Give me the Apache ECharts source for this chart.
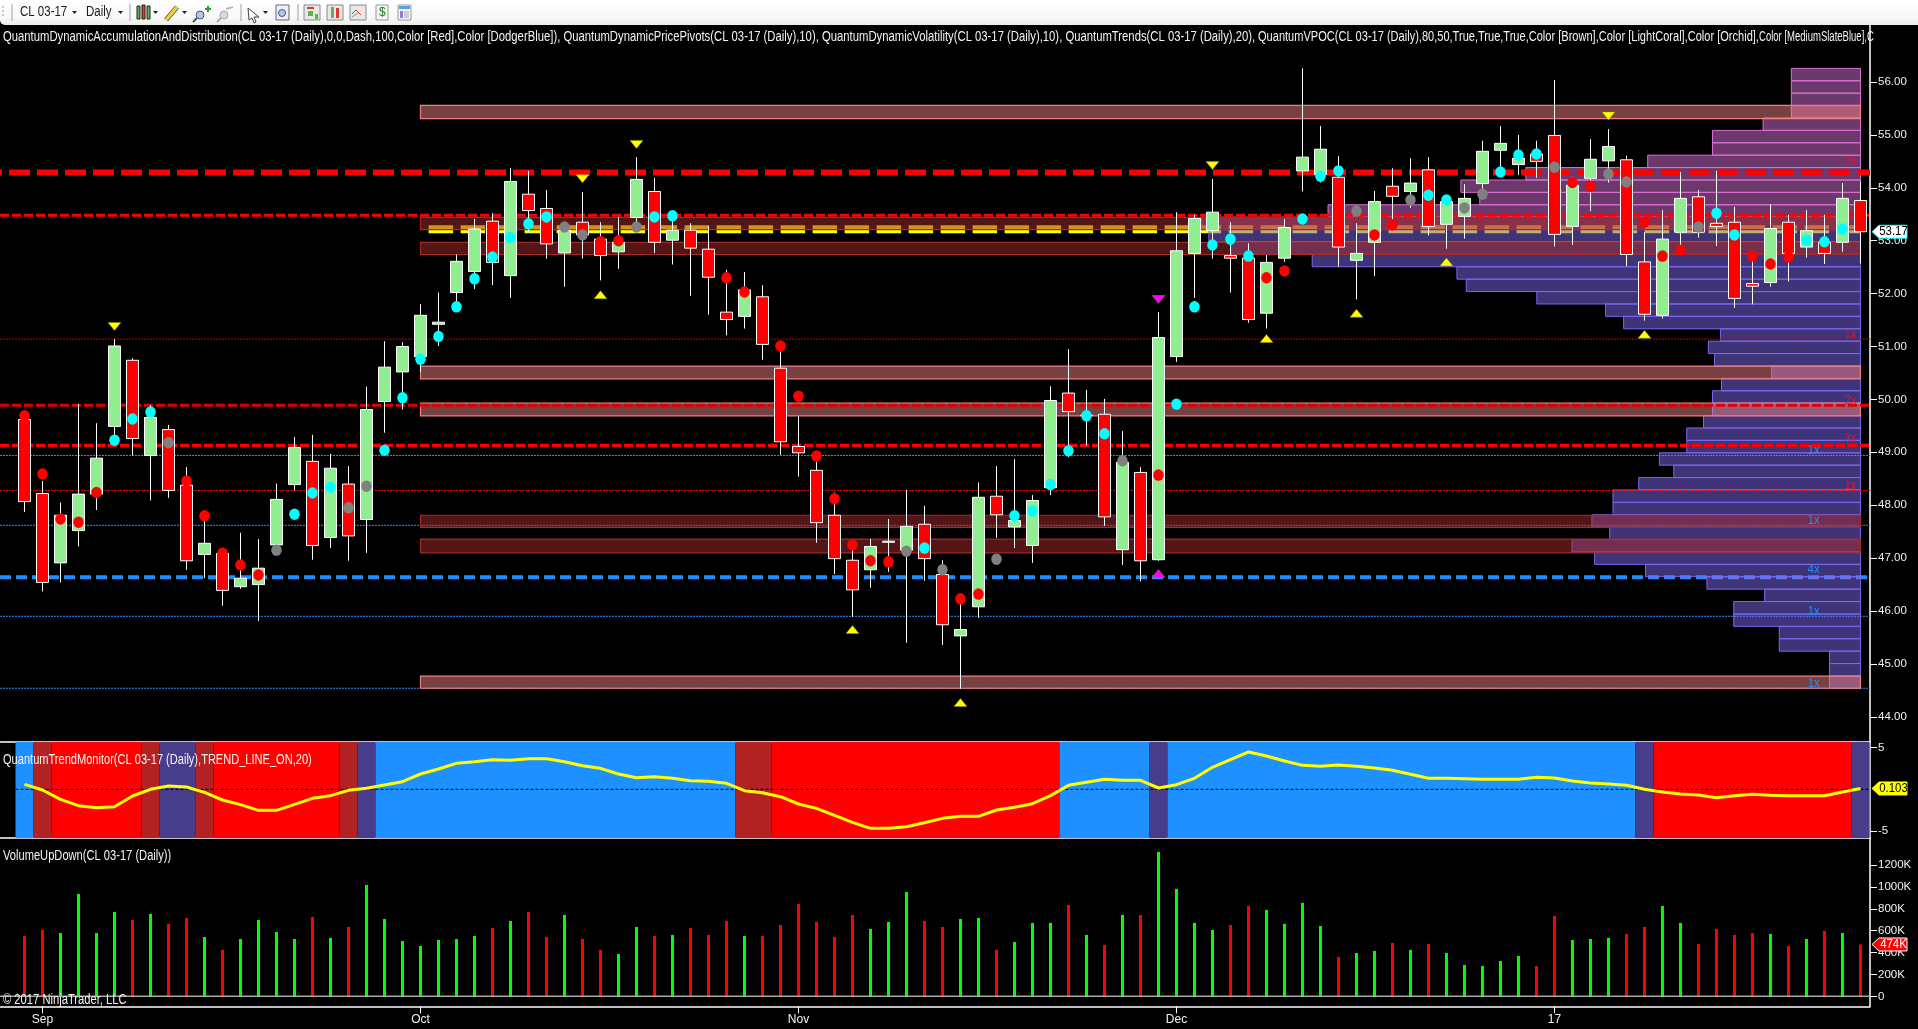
<!DOCTYPE html>
<html><head><meta charset="utf-8">
<style>html,body{margin:0;padding:0;background:#000;overflow:hidden}#c{width:1918px;height:1029px}</style>
<script src="https://cdn.jsdelivr.net/npm/echarts@6/dist/echarts.min.js"></script>
</head><body><div id="c"></div>
<script>
const opens=[49.62,48.22,46.91,47.52,48.21,49.49,50.74,48.94,49.43,48.38,47.07,47.09,46.46,46.50,47.25,48.39,48.83,47.39,48.40,47.73,49.96,50.52,50.81,51.42,52.02,52.42,53.37,52.34,53.88,53.61,52.77,53.35,53.03,52.79,53.44,53.93,53.01,53.20,52.84,51.65,51.57,51.94,50.59,49.11,48.66,47.81,46.96,46.78,47.30,47.15,47.64,46.69,45.53,46.08,48.17,47.59,47.24,48.33,50.12,49.69,49.72,47.16,48.62,46.97,50.81,52.76,53.19,52.72,52.67,51.63,52.67,54.32,54.25,54.20,52.63,52.97,54.03,53.93,54.34,53.31,53.46,54.08,54.71,54.44,54.64,54.99,53.27,54.18,54.51,54.53,52.60,51.59,53.16,53.83,53.33,53.35,52.19,52.21,53.35,52.88,52.97,52.97,53.76];
const closes=[48.07,46.54,47.81,48.21,48.89,51.01,49.26,49.66,48.28,46.95,47.28,46.39,46.62,46.81,48.11,49.09,47.24,48.70,47.42,49.81,50.61,51.00,51.59,51.46,52.61,53.22,52.59,54.12,53.57,52.94,53.20,53.11,52.72,52.97,54.16,52.97,53.20,52.86,52.31,51.51,52.07,51.04,49.20,48.99,47.67,46.99,46.40,47.22,47.32,47.60,46.99,45.74,45.65,48.15,47.82,47.71,48.09,49.98,49.77,49.70,47.78,48.81,46.95,51.17,52.81,53.42,53.54,52.67,51.51,52.59,53.25,54.58,54.73,52.88,52.76,53.74,53.84,54.09,53.27,53.74,53.80,54.69,54.84,54.56,54.50,53.12,54.05,54.54,54.78,52.74,51.61,53.03,53.80,53.16,53.27,51.91,52.14,53.23,52.76,53.19,52.76,53.80,53.17];
const highs=[49.77,48.46,48.05,49.91,49.55,51.14,50.78,49.89,49.52,48.72,47.80,47.15,47.48,47.36,48.41,49.29,49.33,48.97,48.74,50.24,51.10,51.08,51.80,52.02,52.74,53.41,53.52,54.37,54.32,53.96,53.27,53.92,53.35,53.45,54.58,54.19,53.52,53.33,53.28,52.45,52.41,52.16,51.00,49.69,48.82,48.24,47.15,47.36,47.74,48.29,47.99,46.96,46.15,48.43,48.74,48.87,48.19,50.25,50.95,50.18,50.01,49.40,48.72,51.65,53.54,53.49,54.17,53.35,52.95,52.73,53.41,56.26,55.17,54.60,53.33,53.94,54.37,54.56,54.58,53.83,54.07,54.89,55.17,55.00,54.89,56.04,54.21,54.92,55.11,54.61,53.16,53.58,54.30,53.96,54.32,53.64,52.73,53.69,53.49,53.58,53.49,54.09,54.12];
const lows=[47.87,46.37,46.54,47.22,47.91,49.20,48.94,48.09,48.14,46.78,46.62,46.10,46.42,45.81,47.20,48.28,46.97,47.19,46.95,47.10,49.37,49.81,50.52,51.01,51.85,52.09,52.16,51.92,53.15,52.66,52.13,52.66,52.25,52.47,53.27,52.77,52.55,51.96,51.60,51.21,51.34,50.75,48.95,48.54,47.29,46.70,45.89,46.44,46.74,45.40,46.57,45.36,44.53,45.87,47.38,47.19,46.91,48.19,48.91,49.13,47.61,46.87,46.56,46.95,50.71,51.92,52.66,52.02,51.45,51.34,52.60,53.93,54.10,52.51,51.89,52.33,53.32,53.62,53.10,52.85,53.04,53.93,54.24,54.24,54.19,52.89,52.92,53.56,54.10,52.52,51.49,51.53,52.82,53.06,52.90,51.73,51.80,52.13,52.23,52.68,52.56,52.79,52.57];
const volumes=[552,607,579,936,579,771,698,753,662,716,543,424,524,698,588,524,726,534,634,1018,707,506,460,515,524,552,625,689,771,543,744,524,424,387,634,552,561,625,561,689,552,552,652,845,680,543,744,616,680,954,689,634,707,716,424,497,671,671,835,561,470,744,744,1320,982,671,607,652,826,790,662,854,643,360,396,415,488,424,479,396,287,277,323,369,277,735,515,524,534,570,634,826,671,479,616,561,579,570,460,524,598,579,474];
const trendLine=[.6,-.08,-1.2,-1.96,-2.2,-2.08,-.8,0,.4,.28,-.36,-1.28,-1.84,-2.52,-2.52,-1.8,-1.08,-.76,-.12,.12,.52,.92,1.84,2.44,3.12,3.32,3.56,3.48,3.68,3.68,3.32,2.84,2.52,1.84,1.4,1.52,1.32,1.04,.96,.72,-.16,-.4,-.88,-1.76,-2.28,-3.12,-3.96,-4.68,-4.68,-4.48,-4,-3.48,-3.24,-3.24,-2.48,-2.16,-1.72,-.76,.48,.84,1.2,1.08,1.08,.16,.56,1.32,2.64,3.56,4.48,4,3.4,2.88,2.76,2.92,2.76,2.56,2.28,1.8,1.32,1.32,1.28,1.2,1.2,1.2,1.44,1.36,1,.76,.64,.48,0,-.32,-.56,-.68,-1,-.76,-.6,-.72,-.76,-.76,-.76,-.32,.103];
const trendSegments=[[0,0,'up'],[1,1,'warnDown'],[2,6,'down'],[7,7,'warnDown'],[8,9,'warnUp'],[10,10,'warnDown'],[11,17,'down'],[18,18,'warnDown'],[19,19,'warnUp'],[20,39,'up'],[40,41,'warnDown'],[42,57,'down'],[58,62,'up'],[63,63,'warnUp'],[64,89,'up'],[90,90,'warnUp'],[91,101,'down'],[102,102,'warnUp']];
const redDots=[[0,49.69],[1,48.59],[2,47.74],[3,47.68],[4,48.24],[9,48.46],[10,47.80],[11,47.09],[12,46.87],[13,46.68],[32,52.98],[33,53.00],[39,52.30],[40,52.03],[42,51.01],[43,50.06],[44,48.93],[45,48.12],[46,47.25],[47,46.95],[48,46.93],[52,46.23],[53,46.32],[63,48.57],[69,52.30],[70,52.43],[75,53.11],[76,53.30],[86,54.10],[87,54.03],[90,53.35],[91,52.71],[92,52.82],[96,52.71],[97,52.56],[98,52.69]];
const cyanDots=[[5,49.23],[6,49.63],[7,49.76],[15,47.83],[16,48.23],[17,48.34],[20,49.04],[21,50.03],[22,50.76],[23,51.19],[24,51.75],[25,52.28],[26,52.69],[27,53.06],[28,53.32],[29,53.45],[35,53.45],[36,53.47],[50,47.19],[55,47.80],[56,47.89],[57,48.39],[58,49.03],[59,49.69],[60,49.35],[64,49.91],[65,51.75],[66,52.92],[67,53.03],[68,52.71],[71,53.41],[72,54.22],[73,54.32],[78,53.86],[79,53.77],[82,54.30],[83,54.62],[84,54.64],[94,53.52],[95,53.11],[99,53.01],[100,52.98],[101,53.22]];
const grayDots=[[8,49.18],[14,47.15],[18,47.95],[19,48.36],[30,53.26],[31,53.11],[34,53.26],[49,47.13],[51,46.78],[54,46.98],[61,48.84],[74,53.56],[77,53.77],[80,53.62],[81,53.88],[85,54.39],[88,54.26],[89,54.11],[93,53.26]];
const pivotsDown=[[5,51.38],[31,54.17],[34,54.82],[66,54.42],[88,55.36]];
const pivotsUp=[[32,51.98],[46,45.65],[52,44.27],[69,51.15],[74,51.63],[79,52.60],[90,51.23]];
const climaxDown=[[63,51.89]];
const climaxUp=[[63,46.71]];
const profileVolumes=[1.72,1.72,1.72,4.51,4.51,7.04,7.04,5.32,8.53,11.94,14.77,16.03,13.93,14.92,13.75,13.75,12.32,10.37,11.17,9.65,9.65,8.72,8.22,8.22,7.72,4.93,8.11,8.45,7.77,13.16,14.16,17.98,21.9,22.42,30.46,34.98,36.2,36.6,29.58,21.15,22.2,18.59,11.82,8.22,8.22,5.41,3.84,3.84,3.84,3.84];
const profileFloor=44.538, profileStep=0.2344, profilePocRow=37;
const lightZones=[[55.31,55.56],[50.39,50.63],[49.69,49.93],[44.54,44.77]];
const darkZones=[[53.21,53.44],[52.74,52.97],[47.58,47.81],[47.10,47.36]];
const redLevels=[54.29,53.48,49.89,49.13,48.28,51.14];
const blueLevels=[46.64,48.94,47.62,45.90,44.54];
const yellowLevel=53.215;
const redCounts=[[54.5,'7x'],[53.6,'2x'],[51.23,'1x'],[49.98,'2x'],[49.27,'3x'],[48.38,'1x']];
const blueCounts=[[49.04,'1x'],[47.71,'1x'],[46.79,'4x'],[45.99,'1x'],[44.63,'1x']];
const priceTicks=[44,45,46,47,48,49,50,51,52,53,54,55,56];
const trendTicks=[-5,5];
const volumeTicks=[0,200,400,600,800,1000,1200];
const monthTicks=[1,22,43,64,85];
const monthLabels=['Sep','Oct','Nov','Dec','17'];
const legendMain='QuantumDynamicAccumulationAndDistribution(CL 03-17 (Daily),0,0,Dash,100,Color [Red],Color [DodgerBlue]), QuantumDynamicPricePivots(CL 03-17 (Daily),10), QuantumDynamicVolatility(CL 03-17 (Daily),10), QuantumTrends(CL 03-17 (Daily),20),';
const legendMainVpoc='QuantumVPOC(CL 03-17 (Daily),80,50,True,True,True,Color [Brown],Color [LightCoral],Color [Orchid],';
const legendMainEnd='Color [MediumSlateBlue],C';
const legendTrend='QuantumTrendMonitor(CL 03-17 (Daily),TREND_LINE_ON,20)';
const legendVolume='VolumeUpDown(CL 03-17 (Daily))';
const copyrightText='© 2017 NinjaTrader, LLC';
const instrument='CL 03-17', period='Daily';

const FONT='"Liberation Sans",Arial,sans-serif';
const X0=-1.361,X1=102.53,LAST=102;
const xAxisBase={type:'value',min:X0,max:X1,splitLine:{show:false},axisPointer:{show:false},
  axisLine:{show:true,onZero:false,lineStyle:{color:'#fff',width:1.5}},axisTick:{show:false},axisLabel:{show:false}};
const yBase={type:'value',position:'right',scale:false,splitLine:{show:false},
  axisLine:{show:true,onZero:false,lineStyle:{color:'#fff',width:1.5}},
  axisTick:{show:true,length:7,lineStyle:{color:'#fff',width:1}}};
const lab=(f,vals)=>({show:true,color:'#f2f2f2',fontFamily:FONT,fontSize:11.5,margin:8,customValues:vals,formatter:f});
const levelLine=(p,color,width,dash,x0,x1,z,off)=>({type:'line',xAxisIndex:0,yAxisIndex:0,silent:true,animation:false,symbol:'none',z:z||1,
  data:[[x0===undefined?X0:x0,p],[x1===undefined?X1:x1,p]],lineStyle:{color,width,type:dash,dashOffset:off||0,cap:'butt'}});
const bandColor={up:'#1E90FF',down:'#FF0000',warnDown:'#B22222',warnUp:'#483D8B'};
const idx=opens.map((_,i)=>i);

const rectRender=(styleOf)=>(params,api)=>{
  const a=api.coord([api.value(0),api.value(2)]),b=api.coord([api.value(1),api.value(3)]);
  const s=params.coordSys;
  const shape=echarts.graphic.clipRectByRect({x:Math.min(a[0],b[0]),y:Math.min(a[1],b[1]),width:Math.abs(b[0]-a[0]),height:Math.abs(b[1]-a[1])},
    {x:s.x,y:s.y,width:s.width,height:s.height});
  return shape&&{type:'rect',shape,style:styleOf(params.dataIndex)};
};
const customRects=(data,styleOf,z,x,y)=>({type:'custom',xAxisIndex:x||0,yAxisIndex:y||0,silent:true,animation:false,z,
  data,encode:{x:[0,1],y:[2,3]},renderItem:rectRender(styleOf)});
const dotSeries=(data,color)=>({type:'scatter',xAxisIndex:0,yAxisIndex:0,silent:true,animation:false,z:6,data,symbol:'circle',symbolSize:[10.5,11.5],itemStyle:{color,opacity:1}});
const triSeries=(data,color,down)=>({type:'scatter',xAxisIndex:0,yAxisIndex:0,silent:true,animation:false,z:6,data,symbol:'triangle',symbolRotate:down?180:0,symbolSize:[13,8],itemStyle:{color,opacity:1,borderColor:'#8a8a00',borderWidth:.5}});
const countLabels=(data,color,xi)=>({type:'custom',xAxisIndex:0,yAxisIndex:0,silent:true,animation:false,z:4,
  data:data.map(d=>[xi,d[0],d[1]]),encode:{x:0,y:1},
  renderItem:(p,api)=>{const c=api.coord([api.value(0),api.value(1)]);
    return {type:'text',x:c[0],y:c[1],scaleX:.85,style:{text:data[p.dataIndex][1],fill:color,font:'13px '+FONT,align:'center',verticalAlign:'middle'}};}});
const tagSeries=(x,y,val,text,fill,textFill,stroke)=>({type:'custom',xAxisIndex:x,yAxisIndex:y,silent:true,animation:false,z:30,clip:false,
  data:[[X1,val]],encode:{x:0,y:1},
  renderItem:(p,api)=>{const c=api.coord([api.value(0),api.value(1)]);const X=c[0],Y=c[1];
    return {type:'group',children:[
      {type:'polygon',shape:{points:[[X+2,Y],[X+9,Y-6.5],[X+37,Y-6.5],[X+37,Y+6.5],[X+9,Y+6.5]]},style:{fill,stroke,lineWidth:1}},
      {type:'text',x:X+23.5,y:Y,scaleX:.88,style:{text,fill:textFill,font:'13px '+FONT,align:'center',verticalAlign:'middle'}}]};}});

const series=[
  // trend panel
  customRects(trendSegments.map(s=>[s[0]-.5,s[1]+.5,-100,100]),i=>({fill:bandColor[trendSegments[i][2]]}),1,1,1),
  {type:'line',xAxisIndex:1,yAxisIndex:1,silent:true,animation:false,symbol:'none',z:3,data:[[-.5,0],[X1,0]],lineStyle:{color:'#000',width:1,type:[3,2]}},
  {type:'line',xAxisIndex:1,yAxisIndex:1,silent:true,animation:false,symbol:'none',z:4,data:idx.map(i=>[i,trendLine[i]]),lineStyle:{color:'#FFFF00',width:3}},
  // volume panel
  {type:'bar',xAxisIndex:2,yAxisIndex:2,silent:true,animation:false,barWidth:3,z:3,
    data:idx.map(i=>({value:[i,volumes[i]],itemStyle:{color:closes[i]>=opens[i]?'#00FF00':'#FF0000'}}))},
  {type:'line',xAxisIndex:2,yAxisIndex:2,silent:true,animation:false,symbol:'none',z:4,data:[[X0,0],[X1,0]],lineStyle:{color:'#a8a8a8',width:1.5}},
  // level lines: yellow and blue sit under the profile, red above it
  levelLine(yellowLevel,'#FFFF00',8,[24.5,7.5],22.45,LAST,1),
  levelLine(redLevels[0],'#FF0000',6,[21,7],X0,X1,3.5,19),
  levelLine(redLevels[1],'#FF0000',3,[9,3],X0,X1,3.5),
  levelLine(redLevels[2],'#E00000',3,[9,3],X0,X1,3.5),
  levelLine(redLevels[3],'#FF0000',3.5,[9,3],X0,X1,3.5),
  levelLine(redLevels[4],'#FF0000',1,[2,1],X0,X1,3.5),
  levelLine(redLevels[5],'#C00000',1,[2,1],X0,X1,3.5),
  levelLine(blueLevels[0],'#1E90FF',4,[11,5],X0,X1,1),
  levelLine(blueLevels[1],'#1E90FF',1,[2,1],X0,X1,1),
  levelLine(blueLevels[2],'#1E90FF',1,[2,1],X0,X1,1),
  levelLine(blueLevels[3],'#1E90FF',1,[2,1],X0,X1,1),
  levelLine(blueLevels[4],'#1E90FF',1,[2,1],X0,X1,1),
  // volume profile
  customRects(profileVolumes.map((v,k)=>[LAST-v,LAST,profileFloor+k*profileStep,profileFloor+(k+1)*profileStep]),
    i=>i>=profilePocRow?{fill:'rgba(218,112,214,.5)',stroke:'#DA70D6',lineWidth:1}:{fill:'rgba(123,104,238,.5)',stroke:'#7B68EE',lineWidth:1},2),
  // zones
  customRects(lightZones.map(z=>[22,LAST,z[0],z[1]]),()=>({fill:'rgba(240,128,128,.5)',stroke:'#F08080',lineWidth:1.2}),3),
  customRects(darkZones.map(z=>[22,LAST,z[0],z[1]]),()=>({fill:'rgba(165,42,42,.5)',stroke:'#A52A2A',lineWidth:1.2}),3),
  countLabels(redCounts,'#DC143C',101.45),
  countLabels(blueCounts,'#1E90FF',99.4),
  // price
  {type:'candlestick',xAxisIndex:0,yAxisIndex:0,silent:true,animation:false,z:5,barWidth:12,clip:false,
    encode:{x:0,y:[1,2,3,4]},
    data:idx.map(i=>[i,opens[i],closes[i],lows[i],highs[i]]),
    itemStyle:{color:'#90EE90',color0:'#FF0000',borderColor:'#fff',borderColor0:'#fff',borderWidth:1}},
  dotSeries(redDots,'#FF0000'),dotSeries(cyanDots,'#00FFFF'),dotSeries(grayDots,'#808080'),
  triSeries(pivotsDown,'#FFFF00',true),triSeries(pivotsUp,'#FFFF00',false),
  triSeries(climaxDown,'#FF00FF',true),triSeries(climaxUp,'#FF00FF',false),
  // last value tags
  tagSeries(0,0,closes[LAST],closes[LAST].toFixed(2),'#fff','#000','#00FFFF'),
  tagSeries(1,1,trendLine[LAST],trendLine[LAST].toFixed(3),'#FFFF00','#000','#FFFF00'),
  tagSeries(2,2,volumes[LAST],volumes[LAST]+'K','#FF0000','#fff','#fff')
];

// toolbar & captions
const txt=(x,y,text,size,sx,fill)=>({type:'text',x,y,scaleX:sx||.82,z:50,silent:true,style:{text,fill:fill||'#f4f4f4',font:size+'px '+FONT,verticalAlign:'middle'}});
const r=(x,y,w,h,fill,stroke)=>({type:'rect',z:50,silent:true,shape:{x,y,width:w,height:h},style:{fill:fill||'none',stroke:stroke||'none',lineWidth:1}});
const ln=(a,b,c,d,stroke,w)=>({type:'line',z:50,silent:true,shape:{x1:a,y1:b,x2:c,y2:d},style:{stroke,lineWidth:w||1}});
const tri=(x,y)=>({type:'polygon',z:50,silent:true,shape:{points:[[x,y],[x+5,y],[x+2.5,y+3]]},style:{fill:'#222'}});
const circ=(x,y,rad,fill,stroke)=>({type:'circle',z:50,silent:true,shape:{cx:x,cy:y,r:rad},style:{fill,stroke,lineWidth:1}});
const framed=(x)=>r(x,5,16,15,'#e8e8e8','#8a8a8a');
const graphics=[
  {type:'rect',z:49,silent:true,shape:{x:0,y:0,width:1918,height:25,r:[0,0,0,5]},
   style:{fill:new echarts.graphic.LinearGradient(0,0,0,1,[{offset:0,color:'#ffffff'},{offset:.7,color:'#f8f8f8'},{offset:1,color:'#ececec'}])}},
  ln(12,4,12,21,'#a0a0a0'),ln(130,4,130,21,'#a0a0a0'),ln(241,4,241,21,'#a0a0a0'),ln(298,4,298,21,'#a0a0a0'),
  ln(3,6,3,8,'#999'),ln(3,10,3,12,'#999'),ln(3,14,3,16,'#999'),
  txt(20,12.5,instrument,14,.82,'#1a1a1a'),tri(72,11),
  txt(86,12.5,period,14,.82,'#1a1a1a'),tri(118,11),
  r(137,6,3,13,'#56b84c','#222'),r(142,5,3,14,'#e2352a','#222'),r(147,6,3,13,'#56b84c','#222'),tri(153,11),
  ln(166,20,177,7,'#555',5),ln(166,20,177,7,'#f1d23a',3.4),tri(182,11),
  circ(200,15,4,'#a8cbe8','#557'),ln(197,18,193,22,'#555',2),r(205,8,6,2,'#27a327'),r(207,6,2,6,'#27a327'),
  circ(224,15,4,'#d8d8d8','#aaa'),ln(221,18,217,22,'#aaa',2),ln(226,9,233,7,'#bbb',2),
  {type:'polygon',z:50,silent:true,shape:{points:[[248,8],[259,17],[254,17],[256,22],[254,23],[252,18],[249,20]]},style:{fill:'#fff',stroke:'#444',lineWidth:1}},tri(263,11),
  r(276,5,13,15,'#eef','#666'),circ(282,13,3.5,'#a8cbe8','#557'),
  framed(304),r(307,7,7,2,'#e2352a'),r(308,11,5,5,'#56b84c'),r(315,14,3,5,'#56b84c'),
  framed(327),r(331,7,3,11,'#56b84c'),r(336,8,3,10,'#e2352a'),
  framed(350),ln(352,14,356,10,'#e2352a'),ln(356,10,361,15,'#e2352a'),ln(352,17,358,13,'#56b84c'),
  r(376,5,12,15,'#f6f6f6','#999'),txt(379,13,'$',12,1,'#1f7a1f'),
  r(398,5,13,15,'#f4f4ff','#999'),r(399,6,11,3,'#5aa0e0'),r(400,11,3,7,'#9a77e0'),r(404,11,5,7,'#ccd'),
  txt(3,37,legendMain,14,.8065),
  txt(1258,37,legendMainVpoc,14,.789),
  txt(1759,37,legendMainEnd,14,.68),
  txt(3,760.5,legendTrend,14,.79),
  txt(3,856,legendVolume,14,.795),
  txt(3,1000,copyrightText,14,.8)
];

const option={
  backgroundColor:'#000',animation:false,
  grid:[{left:0,top:25,width:1870,height:717},{left:0,top:742,width:1870,height:96},{left:0,top:838,width:1870,height:168.3}],
  xAxis:[
    Object.assign({},xAxisBase,{gridIndex:0}),
    Object.assign({},xAxisBase,{gridIndex:1}),
    Object.assign({},xAxisBase,{gridIndex:2,
      axisTick:{show:true,length:7,lineStyle:{color:'#fff',width:1},customValues:monthTicks},
      axisLabel:{show:true,color:'#f2f2f2',fontFamily:FONT,fontSize:12,margin:7,customValues:monthTicks,
        formatter:v=>monthLabels[monthTicks.indexOf(v)]}})
  ],
  yAxis:[
    Object.assign({},yBase,{gridIndex:0,min:43.524,max:57.078,axisTick:Object.assign({},yBase.axisTick,{customValues:priceTicks}),axisLabel:lab(v=>v.toFixed(2),priceTicks)}),
    Object.assign({},yBase,{gridIndex:1,min:-5.84,max:5.68,axisTick:Object.assign({},yBase.axisTick,{customValues:trendTicks}),axisLabel:lab(v=>String(v),trendTicks)}),
    Object.assign({},yBase,{gridIndex:2,min:-91,max:1447,axisTick:Object.assign({},yBase.axisTick,{customValues:volumeTicks}),axisLabel:lab(v=>v===0?'0':v+'K',volumeTicks)})
  ],
  series,
  graphic:{elements:graphics}
};
echarts.init(document.getElementById('c'),null,{renderer:'canvas'}).setOption(option);
</script></body></html>
